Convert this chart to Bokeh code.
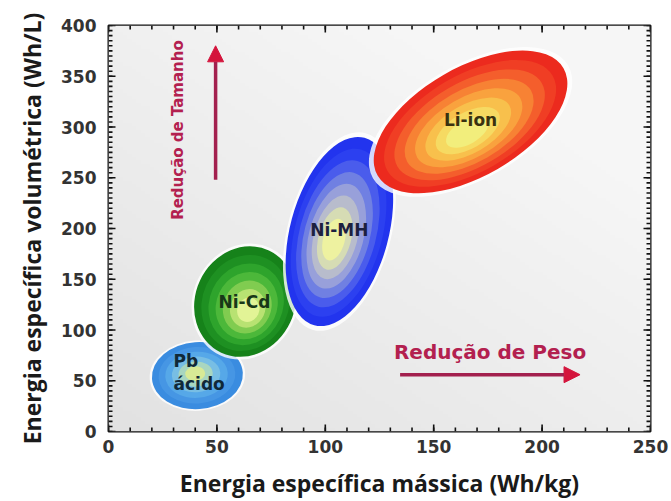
import numpy as np
from bokeh.plotting import figure
from bokeh.models import LinearAxis, Arrow, NormalHead, Label, FixedTicker
from bokeh.core.properties import value
from bokeh.embed import file_html
from bokeh.resources import INLINE

# Energy-density regions of the battery chemistries
batteries = ["Pb ácido", "Ni-Cd", "Ni-MH", "Li-ion"]
mass_energy = [41, 63, 106.5, 167]        # Wh/kg, centre of each region
volume_energy = [55, 128, 197, 305]       # Wh/L, centre of each region
region_width = [42, 52, 89.5, 99]         # along the region's main axis (Wh/kg units)
region_height = [66, 98, 97, 107]         # across it (Wh/L units)
region_angle = [4, 65, 75, 30]            # tilt in degrees

x_ticks = [0, 50, 100, 150, 200, 250]
y_ticks = [0, 50, 100, 150, 200, 250, 300, 350, 400]
x_minor_step = 10
y_minor_step = 5

# colour bands, outer edge to bright core
palettes = {
    "Pb ácido": ["#3a8ce0", "#4696e4", "#56a8e8", "#78bee4", "#a8d6c0", "#d8ea96"],
    "Ni-Cd": ["#16821a", "#1e9022", "#2ea42c", "#4cb83a", "#80cc50", "#b8e272", "#e2f496"],
    "Ni-MH": ["#2234ee", "#2c40f0", "#4a5cec", "#7080e2", "#98a0da", "#b8bccc", "#d6dcb4", "#eef2a0"],
    "Li-ion": ["#ec2a1e", "#f03e24", "#f45e2c", "#f78234", "#f9a23e", "#f8c04c", "#f6da62", "#f2ee7c"],
}
# drift of the bright core relative to the centre (data units)
core_shift = {
    "Pb ácido": (-1.0, 2.0),
    "Ni-Cd": (1.5, -8.0),
    "Ni-MH": (-2.5, -8.0),
    "Li-ion": (-1.5, -10.0),
}
label_text = ["Li-ion", "Ni-MH", "Ni-Cd"]
label_x = [167, 106.5, 62.7]
label_y = [307, 199, 128]
label_color = ["#3a3210", "#1c2040", "#183818"]

x_lo, x_hi = x_ticks[0], x_ticks[-1]
y_lo, y_hi = y_ticks[0], y_ticks[-1]

p = figure(
    width=671, height=501,
    x_range=(x_lo, x_hi), y_range=(y_lo, y_hi),
    output_backend="svg", toolbar_location=None,
    x_axis_location=None, y_axis_location=None,
    min_border_left=108, min_border_right=21,
    min_border_top=25, min_border_bottom=68,
    background_fill_color="#ebebeb", border_fill_color="white",
)
p.grid.visible = False
p.outline_line_color = "#111111"
p.outline_line_width = 2

# soft grey backdrop, darker towards lower left
gx, gy = np.meshgrid(np.linspace(0, 1, 120), np.linspace(0, 1, 120))
shade = 226 + 20 * np.clip(0.6 * gx + 0.7 * gy, 0, 1)
img = np.empty((120, 120), dtype=np.uint32)
view = img.view(dtype=np.uint8).reshape((120, 120, 4))
view[:, :, 0] = shade.astype(np.uint8)
view[:, :, 1] = shade.astype(np.uint8)
view[:, :, 2] = shade.astype(np.uint8)
view[:, :, 3] = 255
p.image_rgba(image=[img], x=x_lo, y=y_lo, dw=x_hi - x_lo, dh=y_hi - y_lo)

# battery regions drawn as stacked ellipses, one band per colour
for i, name in enumerate(batteries):
    cx, cy = mass_energy[i], volume_energy[i]
    w, h, a = region_width[i], region_height[i], region_angle[i]
    # faint white halo
    p.ellipse(x=cx, y=cy, width=w * 1.05, height=h * 1.05, angle=a,
              angle_units="deg", fill_color="white", fill_alpha=0.8,
              line_color=None)
    cols = palettes[name]
    n = len(cols)
    scales = np.linspace(1.0, 0.22, n)
    dx, dy = core_shift[name]
    for k in range(n):
        t = k / (n - 1)
        p.ellipse(x=cx + dx * t, y=cy + dy * t,
                  width=w * scales[k], height=h * scales[k],
                  angle=a, angle_units="deg",
                  fill_color=cols[k], line_color=None)

p.text(x=label_x, y=label_y, text=label_text, text_color=label_color,
       text_align="center", text_baseline="middle",
       text_font=value("DejaVu Sans"), text_font_style="bold",
       text_font_size="17px")
p.text(x=[30, 30], y=[69, 47], text=["Pb", "ácido"], text_color="#102838",
       text_align="left", text_baseline="middle",
       text_font=value("DejaVu Sans"), text_font_style="bold",
       text_font_size="17px")

# direction arrows
arrow_red = "#a3204e"
head_red = "#d4143c"
p.add_layout(Arrow(end=NormalHead(size=16, fill_color=head_red, line_color=head_red),
                   x_start=49.4, y_start=248, x_end=49.4, y_end=380,
                   line_color=arrow_red, line_width=3.5))
p.add_layout(Arrow(end=NormalHead(size=16, fill_color=head_red, line_color=head_red),
                   x_start=134.5, y_start=56, x_end=217.5, y_end=56,
                   line_color=arrow_red, line_width=3.5))
p.add_layout(Label(x=32, y=297, text="Redução de Tamanho", angle=90,
                   angle_units="deg", text_align="center",
                   text_baseline="middle", text_color="#b3204f",
                   text_font="DejaVu Sans", text_font_style="bold",
                   text_font_size="15px"))
p.add_layout(Label(x=176, y=78, text="Redução de Peso",
                   text_align="center", text_baseline="middle",
                   text_color="#b3204f", text_font="DejaVu Sans",
                   text_font_style="bold", text_font_size="20px"))

# inward tick marks on all four sides of the frame
x_minor = np.arange(x_lo, x_hi + 0.1, x_minor_step)
y_minor = np.arange(y_lo, y_hi + 0.1, y_minor_step)
tick_style = dict(line_color="#111111", line_width=1.6, length_units="screen",
                  angle_units="deg")
for xs, length in ((x_minor, 4), (x_ticks, 7)):
    p.ray(x=xs, y=y_lo, length=length, angle=90, **tick_style)
    p.ray(x=xs, y=y_hi, length=length, angle=-90, **tick_style)
for ys, length in ((y_minor, 4), (y_ticks, 7)):
    p.ray(x=x_lo, y=ys, length=length, angle=0, **tick_style)
    p.ray(x=x_hi, y=ys, length=length, angle=180, **tick_style)


def make_axis(ticks):
    ax = LinearAxis(ticker=FixedTicker(ticks=ticks, num_minor_ticks=0))
    ax.axis_line_color = None
    ax.major_tick_line_color = None
    ax.minor_tick_line_color = None
    ax.major_tick_in = 0
    ax.major_tick_out = 0
    ax.major_label_text_font = "DejaVu Sans"
    ax.major_label_text_font_style = "bold"
    ax.major_label_text_font_size = "17px"
    ax.major_label_text_color = "#333333"
    ax.axis_label_text_font = "Open Sans"
    ax.axis_label_text_font_style = "bold"
    ax.axis_label_text_font_size = "23px"
    ax.axis_label_text_color = "#1a1a1a"
    return ax


bottom = make_axis(x_ticks)
bottom.axis_label = "Energia específica mássica (Wh/kg)"
bottom.major_label_standoff = 8
bottom.axis_label_standoff = 11
left = make_axis(y_ticks)
left.axis_label = "Energia específica volumétrica (Wh/L)"
left.major_label_standoff = 12
left.axis_label_standoff = 10

p.add_layout(bottom, "below")
p.add_layout(left, "left")

open("out.html", "w").write(file_html(p, INLINE))
